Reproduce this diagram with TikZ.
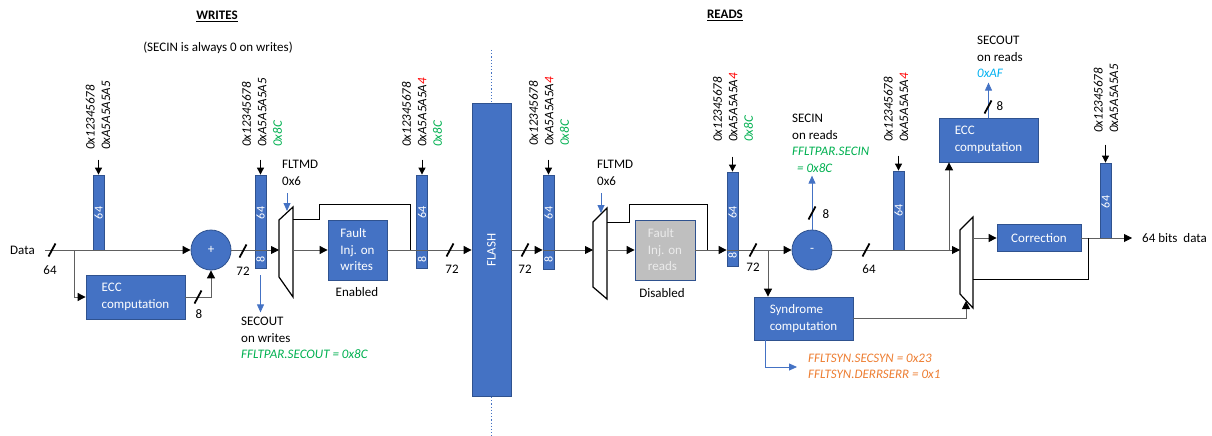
\documentclass[tikz,border=0pt]{standalone}
\usepackage{fontspec}
\setmainfont{Carlito}
\usetikzlibrary{arrows.meta}
\definecolor{bfill}{HTML}{4472C4}
\definecolor{bdraw}{HTML}{2F528F}
\definecolor{tgreen}{HTML}{00B050}
\definecolor{torange}{HTML}{ED7D31}
\definecolor{tcyan}{HTML}{00B0F0}
\definecolor{lgray}{HTML}{606060}
\definecolor{rgfill}{HTML}{BFBFBF}
\begin{document}
\begin{tikzpicture}[x=1pt,y=-1pt,
  base/.style={font=\fontsize{13}{16.5}\selectfont, inner sep=0pt},
  txt/.style={base, align=left},
  blk/.style={base, draw=bdraw, fill=bfill, text=white, line width=0.8pt, align=left},
  bar/.style={draw=bdraw, fill=bfill, line width=0.8pt, minimum width=11pt, inner sep=0pt},
  barlbl/.style={base, text=white, rotate=90, font=\fontsize{12}{14}\selectfont},
  hexs/.style={base, rotate=90, anchor=west, align=left, font=\fontsize{13}{15.5}\selectfont\itshape},
  wire/.style={draw=lgray, line width=0.9pt},
  bk/.style={draw=black, line width=0.9pt},
  arr/.style={wire, -{Triangle[length=8pt,width=8pt,color=black]}},
  sarr/.style={bk, -{Triangle[length=7pt,width=7pt]}},
  barr/.style={draw=bfill, line width=0.8pt, -{Triangle[length=8pt,width=7pt]}},
  mux/.style={draw=black, fill=white, line width=1.2pt, line join=miter},
  wslash/.pic={\draw[black, line width=1.8pt] (-3.5,6.5) -- (3.5,-6.5);}
]
\useasboundingbox (0,0) rectangle (1212,436);

% titles
\node[base, font=\fontsize{13}{16}\selectfont\bfseries] (wtitle) at (217,16) {\underline{WRITES}};
\node[txt] (wnote) at (218,48) {(SECIN is always 0 on writes)};
\node[base, font=\fontsize{13}{16}\selectfont\bfseries] (rtitle) at (725,15) {\underline{READS}};

% ---------- WRITES ----------
\node[txt, anchor=west] (data) at (10,250) {Data};
\coordinate (dstart) at (45,250);
\coordinate (br1) at (74,250);

\node[bar, minimum height=75pt] (b1) at (98.5,212.5) {};
\node[barlbl] (b1l) at (98.5,213) {64};
\node[hexs] (h1) at (98,150) {0x12345678\\0xA5A5A5A5};

\node[blk, circle, minimum size=40pt, align=center] (plus) at (211,250) {+};
\node[blk, minimum width=99pt, minimum height=44pt] (ecc1) at (135.5,297) {ECC\\computation};

\node[bar, minimum height=93pt] (b2) at (260.5,221.5) {};
\node[barlbl] (b2a) at (260.5,213) {64};
\node[barlbl] (b2b) at (260.5,259) {8};
\node[hexs] (h2) at (262,147) {0x12345678\\0xA5A5A5A5\\\textcolor{tgreen}{0x8C}};

% mux 1
\draw[mux] (279,220) -- (293,207) -- (293,297) -- (279,277) -- cycle;
\coordinate (m1in) at (279,250);
\coordinate (m1o1) at (293,250);
\coordinate (m1o2) at (293,219);
\coordinate (m1sel) at (287,211);
\node[txt, anchor=north west] (fltw) at (282,160) {FLTMD\\0x6};

\node[blk, minimum width=59pt, minimum height=60pt] (fiw) at (357.5,250) {Fault\\Inj. on\\writes};
\node[txt] (enab) at (357,292) {Enabled};
\coordinate (j1) at (410,250);

\node[bar, minimum height=93pt] (b3) at (422,221.5) {};
\node[barlbl] (b3a) at (422,212) {64};
\node[barlbl] (b3b) at (422,259) {8};
\node[hexs] (h3) at (422,147) {0x12345678\\0xA5A5A5A\textcolor{red}{4}\\\textcolor{tgreen}{0x8C}};

% flash
\node[blk, minimum width=39pt, minimum height=293pt] (flash) at (491.5,250) {};
\node[barlbl, font=\fontsize{13}{15}\selectfont] (flashl) at (flash) {FLASH};
\coordinate (dtop) at (491.5,50);
\coordinate (dbot) at (491.5,436);
\draw[draw=bfill, line width=0.8pt, dash pattern=on 1.2pt off 2pt] (dtop) -- (flash.north);
\draw[draw=bfill, line width=0.8pt, dash pattern=on 1.2pt off 2pt] (flash.south) -- (dbot);

% ---------- READS ----------
\node[bar, minimum height=94pt] (b4) at (548.5,222) {};
\node[barlbl] (b4a) at (548.5,213) {64};
\node[barlbl] (b4b) at (548.5,259) {8};
\node[hexs] (h4) at (549,146) {0x12345678\\0xA5A5A5A\textcolor{red}{4}\\\textcolor{tgreen}{0x8C}};

% mux 2
\draw[mux] (593,222) -- (607,208) -- (607,299) -- (593,287) -- cycle;
\coordinate (m2in) at (593,250);
\coordinate (m2o1) at (607,250);
\coordinate (m2o2) at (607,222);
\coordinate (m2sel) at (601,213);
\node[txt, anchor=north west] (fltr) at (597,160) {FLTMD\\0x6};

\node[base, draw=bdraw, fill=rgfill, text=white!92!black, line width=0.8pt, align=left,
      minimum width=60pt, minimum height=60pt] (fir) at (665,250) {Fault\\Inj. on\\reads};
\node[txt] (disab) at (662,293) {Disabled};
\coordinate (j2) at (707,250);

\node[bar, minimum height=94pt] (b5) at (732.5,219) {};
\node[barlbl] (b5a) at (732.5,212) {64};
\node[barlbl] (b5b) at (732.5,255) {8};
\node[hexs] (h5) at (733,142) {0x12345678\\0xA5A5A5A\textcolor{red}{4}\\\textcolor{tgreen}{0x8C}};

\coordinate (br2) at (768,250);
\node[blk, circle, minimum size=40pt, align=center] (minus) at (812,250) {-};
\node[txt, anchor=north west] (secin) at (792,114) {SECIN\\on reads\\\textcolor{tgreen}{\itshape FFLTPAR.SECIN}\\\hspace*{5pt}\textcolor{tgreen}{\itshape = 0x8C}};

\node[blk, minimum width=99pt, minimum height=43pt] (syn) at (803.5,318.5) {Syndrome\\computation};
\coordinate (synout) at (797,367);
\node[txt, anchor=north west, text=torange, font=\fontsize{13}{16}\selectfont\itshape] (synt) at (808,354) {FFLTSYN.SECSYN = 0x23\\FFLTSYN.DERRSERR = 0x1};

\node[bar, minimum height=79pt] (b6) at (898.5,210.5) {};
\node[barlbl] (b6a) at (898.5,210) {64};
\node[hexs] (h6) at (896,142) {0x12345678\\0xA5A5A5A\textcolor{red}{4}};

\coordinate (br3) at (949,250);
\node[blk, minimum width=99pt, minimum height=44pt] (ecc2) at (988.5,140) {ECC\\computation};
\node[txt, anchor=north west] (secout) at (977,36) {SECOUT\\on reads\\\textcolor{tcyan}{\itshape 0xAF}};

% mux 3
\draw[mux] (960,230) -- (973,217) -- (973,308) -- (960,294) -- cycle;
\coordinate (m3in) at (960,250);
\coordinate (m3o1) at (973,238);
\coordinate (m3o2) at (973,279);
\coordinate (m3b) at (966,301);

\node[blk, minimum width=84pt, minimum height=27pt, align=center] (corr) at (1039,238) {Correction};
\coordinate (j3) at (1088,238);
\node[bar, minimum height=75pt] (b7) at (1105.5,200.5) {};
\node[barlbl] (b7a) at (1105.5,202) {64};
\node[hexs] (h7) at (1106,133) {0x12345678\\0xA5A5A5A5};
\coordinate (outc) at (1132,238);
\node[txt, anchor=west] (outt) at (1142,238) {64 bits\ \ data};

% ---------- connectors ----------
\draw[arr] (dstart) -- (plus.west);
\draw[arr] (br1) |- (ecc1.west);
\draw[arr] (ecc1.east) -| (plus.south);
\draw[arr] (plus.east) -- (m1in);
\draw[arr] (m1o1) -- (fiw.west);
\draw[bk] (m1o2) -- ++(26,0) -- ++(0,-15) -| (j1);
\draw[arr] (fiw.east) -- (fiw.east -| flash.west);

\draw[arr] (flash.east) -- (b4.west |- flash.east);
\draw[arr] (b4.west |- flash.east) -- (m2in);
\draw[arr] (m2o1) -- (fir.west);
\draw[bk] (m2o2) -- ++(22,0) -- ++(0,-18) -| (j2);
\draw[arr] (fir.east) -- (b5.west |- fir.east);
\draw[arr] (b5.west |- fir.east) -- (minus.west);
\draw[arr] (br2) -- (br2 |- syn.north);
\draw[arr] (minus.east) -- (m3in);
\draw[arr] (br3) -- (br3 |- ecc2.south);
\draw[arr] (m3o1) -- (corr.west);
\draw[arr] (corr.east) -- (outc);
\draw[bk] (m3o2) -| (j3);
\draw[arr] (syn.east) -| (m3b);

% blue arrows
\draw[barr] ([yshift=-7pt]b2.south) -- ([yshift=-44pt]b2.south);
\draw[barr] (287,193) -- (m1sel);
\draw[barr] (601,193) -- (m2sel);
\draw[barr] (minus.north) -- ++(0,-54);
\draw[barr] (ecc2.north) -- ++(0,-35);
\draw[barr] ([xshift=-38.5pt]syn.south) |- (synout);

\node[txt, anchor=north west] (secw) at (241,317) {SECOUT\\on writes\\\textcolor{tgreen}{\itshape FFLTPAR.SECOUT = 0x8C}};

% small arrows above bars
\draw[sarr] ([yshift=15pt]b1.north) -- (b1.north);
\draw[sarr] ([yshift=15pt]b2.north) -- (b2.north);
\draw[sarr] ([yshift=15pt]b3.north) -- (b3.north);
\draw[sarr] ([yshift=15pt]b4.north) -- (b4.north);
\draw[sarr] ([yshift=15pt]b5.north) -- (b5.north);
\draw[sarr] ([yshift=15pt]b6.north) -- (b6.north);
\draw[sarr] ([yshift=18pt]b7.north) -- (b7.north);

% bus width slashes and labels
\pic at (52,250) {wslash};   \node[txt] (n1) at (50,270) {64};
\pic at (198,297) {wslash};  \node[txt] (n2) at (199,314) {8};
\pic at (243,251) {wslash};  \node[txt] (n3) at (243,271) {72};
\pic at (450,250) {wslash};  \node[txt] (n4) at (452,269) {72};
\pic at (525,250) {wslash};  \node[txt] (n5) at (525,269) {72};
\pic at (753,250) {wslash};  \node[txt] (n6) at (753,267) {72};
\pic at (866,250) {wslash};  \node[txt] (n7) at (869,269) {64};
\pic at (812,213) {wslash};  \node[txt] (n8) at (826,214) {8};
\pic at (988,107) {wslash};  \node[txt] (n9) at (1000,106) {8};
\end{tikzpicture}
\end{document}
